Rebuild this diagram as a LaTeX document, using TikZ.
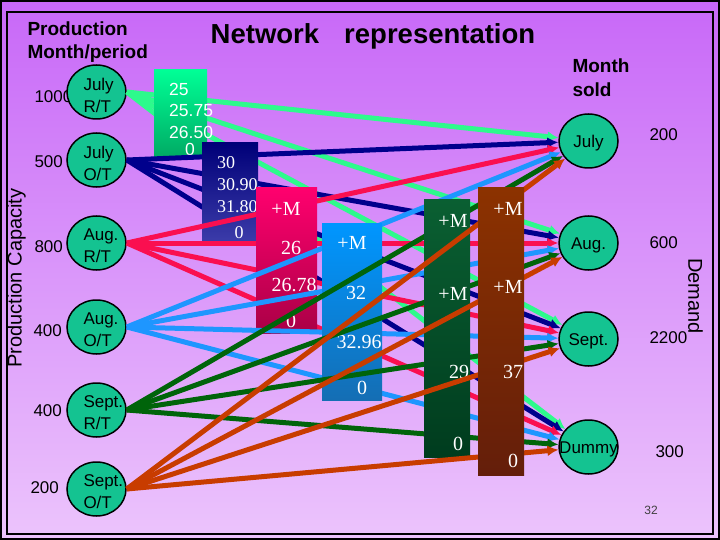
\documentclass[tikz,border=0pt]{standalone}
\usepackage{fontspec}
\setmainfont{Liberation Sans}
\newfontfamily\tms{Liberation Serif}
\usetikzlibrary{shapes,arrows.meta,positioning}

\definecolor{bgtop}{RGB}{200,104,248}
\definecolor{bgbot}{RGB}{236,196,252}
\definecolor{nodegreen}{RGB}{20,195,145}
\definecolor{lngreen}{RGB}{45,250,140}
\definecolor{lnnavy}{RGB}{0,0,140}
\definecolor{lnred}{RGB}{250,15,80}
\definecolor{lnblue}{RGB}{30,150,255}
\definecolor{lndkgreen}{RGB}{0,100,10}
\definecolor{lnorange}{RGB}{200,60,0}

\tikzset{
  src/.style={ellipse, draw, line width=1.5pt, fill=nodegreen, minimum width=59pt, minimum height=54pt, inner sep=0pt},
  srctxt/.style={text width=40pt, align=left, inner sep=0pt, xshift=7pt, yshift=-3pt, font=\fontsize{17}{22}\selectfont},
  dsttxt/.style={inner sep=0pt, yshift=-2pt, font=\fontsize{17}{20}\selectfont},
  num/.style={anchor=west, font=\fontsize{17}{20}\selectfont},
  head/.style={anchor=west, align=left, font=\fontsize{19}{23}\selectfont\bfseries},
  flow/.style={line width=5pt, -{Latex[length=11pt,width=11pt]}},
  costbox/.style={rectangle, inner sep=0pt},
  sanscost/.style={text=white, inner sep=0pt, font=\fontsize{17.5}{20}\selectfont},
  cost/.style={text=white, inner sep=0pt, font=\tms\fontsize{20}{22}\selectfont},
}

\begin{document}
\begin{tikzpicture}[x=1pt, y=-1pt]
    \useasboundingbox (0,0) rectangle (720,540);
    % Background and frame
    \fill[top color=bgtop, bottom color=bgbot] (0,0) rectangle (720,540);
    \draw[line width=4pt] (0,0) rectangle (720,540);
    \draw[line width=2pt] (7,12) rectangle (713,534);

    % Headings
    \node (title) at (373,36.5) {\fontsize{27.5}{31}\selectfont\bfseries Network\hspace{25pt}representation};
    \node[head] (prodhead) at (24,42.5) {Production\\Month/period};
    \node[head, font=\fontsize{19}{24}\selectfont\bfseries] (soldhead) at (569,78) {Month\\sold};
    \node[rotate=90, font=\fontsize{20}{24}\selectfont] (capacity) at (16.5,278) {Production Capacity};
    \node[rotate=-90, font=\fontsize{20}{24}\selectfont] (demand) at (695.5,296) {Demand};

    % Capacities
    \node[num] (cap1) at (31,97) {1000};
    \node[num] (cap2) at (31,162) {500};
    \node[num] (cap3) at (31,247) {800};
    \node[num] (cap4) at (30,331) {400};
    \node[num] (cap5) at (30,411) {400};
    \node[num] (cap6) at (27,488) {200};

    % Production nodes
    \node[src, label={[srctxt]center:{July\\R/T}}] (jrt) at (96.5,92) {};
    \node[src, label={[srctxt]center:{July\\O/T}}] (jot) at (96.5,160) {};
    \node[src, label={[srctxt]center:{Aug.\\R/T}}] (art) at (96.5,243) {};
    \node[src, label={[srctxt]center:{Aug.\\O/T}}] (aot) at (96.5,327) {};
    \node[src, label={[srctxt]center:{Sept.\\R/T}}] (srt) at (96.5,410) {};
    \node[src, label={[srctxt]center:{Sept.\\O/T}}] (sot) at (96.5,489) {};

    % Month sold nodes
    \node[src, label={[dsttxt]center:July}] (july) at (588.5,141) {};
    \node[src, label={[dsttxt]center:Aug.}] (aug) at (588.5,243) {};
    \node[src, label={[dsttxt]center:Sept.}] (sept) at (588.5,339) {};
    \node[src, label={[dsttxt]center:Dummy}] (dummy) at (588.5,447) {};

    % Demands
    \node[num] (dem1) at (646,135) {200};
    \node[num] (dem2) at (646,243) {600};
    \node[num] (dem3) at (646,338) {2200};
    \node[num] (dem4) at (652,452) {300};
    \node[font=\fontsize{12}{14}\selectfont, text=black!75] (page) at (651,510) {32};

    % July R/T
    \draw[flow, lngreen] (jrt.east) -- (july);
    \draw[flow, lngreen] (jrt.east) -- (aug);
    \draw[flow, lngreen] (jrt.east) -- (sept);
    \draw[flow, lngreen] (jrt.east) -- (dummy);
    \node[costbox, minimum width=53pt, minimum height=87pt, top color={rgb,255:red,0;green,255;blue,150}, bottom color={rgb,255:red,0;green,170;blue,100}] (cjrt) at (180.5,113.5) {};
    \node[sanscost, anchor=west] (cjrt1) at (169,89) {25};
    \node[sanscost, anchor=west] (cjrt2) at (169,110) {25.75};
    \node[sanscost, anchor=west] (cjrt3) at (169,132) {26.50};
    \node[sanscost, anchor=west] (cjrt4) at (185,149) {0};

    % July O/T
    \draw[flow, lnnavy] (jot.east) -- (july);
    \draw[flow, lnnavy] (jot.east) -- (aug);
    \draw[flow, lnnavy] (jot.east) -- (sept);
    \draw[flow, lnnavy] (jot.east) -- (dummy);
    \node[costbox, minimum width=56pt, minimum height=99pt, top color={rgb,255:red,0;green,0;blue,120}, bottom color={rgb,255:red,60;green,60;blue,170}] (cjot) at (230,192.5) {};
    \node[cost, anchor=west, font=\tms\fontsize{18}{20}\selectfont] (cjot1) at (217,163) {30};
    \node[cost, anchor=west, font=\tms\fontsize{18}{20}\selectfont] (cjot2) at (217,185) {30.90};
    \node[cost, anchor=west, font=\tms\fontsize{18}{20}\selectfont] (cjot3) at (217,207) {31.80};
    \node[cost, font=\tms\fontsize{18}{20}\selectfont] (cjot4) at (239,233) {0};

    % Aug. R/T
    \draw[flow, lnred] (art.east) -- (july);
    \draw[flow, lnred] (art.east) -- (aug);
    \draw[flow, lnred] (art.east) -- (sept);
    \draw[flow, lnred] (art.east) -- (dummy);
    \node[costbox, minimum width=61pt, minimum height=145pt, top color={rgb,255:red,255;green,0;blue,110}, bottom color={rgb,255:red,170;green,0;blue,70}] (cart) at (286.5,260.5) {};
    \node[cost] (cart1) at (286,209) {+M};
    \node[cost] (cart2) at (291,248) {26};
    \node[cost] (cart3) at (294,285) {26.78};
    \node[cost] (cart4) at (291,321) {0};

    % Aug. O/T
    \draw[flow, lnblue] (aot.east) -- (july);
    \draw[flow, lnblue] (aot.east) -- (aug);
    \draw[flow, lnblue] (aot.east) -- (sept);
    \draw[flow, lnblue] (aot.east) -- (dummy);
    \node[costbox, minimum width=60pt, minimum height=176pt, top color={rgb,255:red,0;green,150;blue,255}, bottom color={rgb,255:red,20;green,110;blue,180}] (caot) at (352,312) {};
    \node[cost] (caot1) at (352,243) {+M};
    \node[cost] (caot2) at (356,293) {32};
    \node[cost] (caot3) at (359,342) {32.96};
    \node[cost] (caot4) at (362,388) {0};

    % Sept. R/T
    \draw[flow, lndkgreen] (srt.east) -- (july);
    \draw[flow, lndkgreen] (srt.east) -- (aug);
    \draw[flow, lndkgreen] (srt.east) -- (sept);
    \draw[flow, lndkgreen] (srt.east) -- (dummy);
    \node[costbox, minimum width=46pt, minimum height=257pt, top color={rgb,255:red,10;green,95;blue,50}, bottom color={rgb,255:red,0;green,60;blue,30}] (csrt) at (447,328.5) {};
    \node[cost] (csrt1) at (453,221) {+M};
    \node[cost] (csrt2) at (453,294) {+M};
    \node[cost] (csrt3) at (459,372) {29};
    \node[cost] (csrt4) at (458,444) {0};

    % Sept. O/T
    \draw[flow, lnorange] (sot.east) -- (july);
    \draw[flow, lnorange] (sot.east) -- (aug);
    \draw[flow, lnorange] (sot.east) -- (sept);
    \draw[flow, lnorange] (sot.east) -- (dummy);
    \node[costbox, minimum width=46pt, minimum height=287pt, top color={rgb,255:red,140;green,50;blue,0}, bottom color={rgb,255:red,100;green,30;blue,10}] (csot) at (501,331.5) {};
    \node[cost] (csot1) at (508,209) {+M};
    \node[cost] (csot2) at (508,287) {+M};
    \node[cost] (csot3) at (513,372) {37};
    \node[cost] (csot4) at (513,461) {0};
\end{tikzpicture}
\end{document}
